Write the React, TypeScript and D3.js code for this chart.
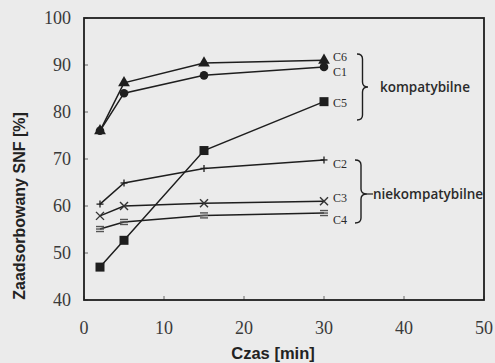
import React from "react";
import * as d3 from "d3";

// Sorption time points [min]
const times = [2, 5, 15, 30];

// Adsorbed SNF [%] for each sample
const c6 = [76, 86.2, 90.4, 91.0];
const c1 = [76, 84.0, 87.8, 89.6];
const c5 = [47.0, 52.7, 71.8, 82.2];
const c2 = [60.4, 64.9, 68.0, 69.8];
const c3 = [57.9, 60.0, 60.6, 61.0];
const c4 = [55.1, 56.6, 58.0, 58.5];

const xTicks = [0, 10, 20, 30, 40, 50];
const yTicks = [40, 50, 60, 70, 80, 90, 100];

type Marker = "triangle" | "circle" | "square" | "plus" | "cross" | "bars";

const series: { name: string; values: number[]; marker: Marker; labelDy: number }[] = [
  { name: "C6", values: c6, marker: "triangle", labelDy: 1 },
  { name: "C1", values: c1, marker: "circle", labelDy: 9 },
  { name: "C5", values: c5, marker: "square", labelDy: 5 },
  { name: "C2", values: c2, marker: "plus", labelDy: 8 },
  { name: "C3", values: c3, marker: "cross", labelDy: 1 },
  { name: "C4", values: c4, marker: "bars", labelDy: 11 },
];

const W = 495;
const H = 363;
const M = { left: 84, right: 484, top: 18, bottom: 300 };

const x = d3.scaleLinear().domain([0, 50]).range([M.left, M.right]);
const y = d3.scaleLinear().domain([40, 100]).range([M.bottom, M.top]);

const ink = "#1e1e1e";

function MarkerShape({ kind, cx, cy }: { kind: Marker; cx: number; cy: number }) {
  switch (kind) {
    case "triangle":
      return <path d={d3.symbol(d3.symbolTriangle, 60)()!} transform={`translate(${cx},${cy})`} fill={ink} />;
    case "circle":
      return <circle cx={cx} cy={cy} r={4.3} fill={ink} />;
    case "square":
      return <rect x={cx - 4.5} y={cy - 4.5} width={9} height={9} fill={ink} />;
    case "plus":
      return (
        <g stroke={ink} strokeWidth={1.3}>
          <line x1={cx - 3.5} x2={cx + 3.5} y1={cy} y2={cy} />
          <line x1={cx} x2={cx} y1={cy - 3.5} y2={cy + 3.5} />
        </g>
      );
    case "cross":
      return (
        <g stroke="#333" strokeWidth={1.4}>
          <line x1={cx - 4} x2={cx + 4} y1={cy - 4} y2={cy + 4} />
          <line x1={cx - 4} x2={cx + 4} y1={cy + 4} y2={cy - 4} />
        </g>
      );
    case "bars":
      return (
        <g stroke="#555" strokeWidth={1.4}>
          <line x1={cx - 4} x2={cx + 4} y1={cy - 2.5} y2={cy - 2.5} />
          <line x1={cx - 4} x2={cx + 4} y1={cy} y2={cy} />
          <line x1={cx - 4} x2={cx + 4} y1={cy + 2.5} y2={cy + 2.5} />
        </g>
      );
  }
}

// Right-facing curly brace from (x0, y0) down to (x0, y1), pointing at ym
function bracePath(x0: number, y0: number, y1: number, ym: number, w: number) {
  const xm = x0 + w / 2;
  const r = 5;
  return [
    `M${x0},${y0}`,
    `Q${xm},${y0} ${xm},${y0 + r}`,
    `L${xm},${ym - r}`,
    `Q${xm},${ym} ${x0 + w},${ym}`,
    `Q${xm},${ym} ${xm},${ym + r}`,
    `L${xm},${y1 - r}`,
    `Q${xm},${y1} ${x0},${y1}`,
  ].join(" ");
}

export default function App() {
  const line = d3
    .line<number>()
    .x((_, i) => x(times[i]))
    .y((v) => y(v));

  const lastT = times[times.length - 1];
  const labelX = x(lastT) + 9;

  return (
    <svg
      width={W}
      height={H}
      style={{ position: "absolute", left: 0, top: 0, background: "#ebebeb" }}
    >
      <defs>
        <clipPath id="plot">
          <rect x={M.left} y={M.top} width={M.right - M.left} height={M.bottom - M.top} />
        </clipPath>
      </defs>

      {/* inward ticks */}
      {yTicks.map((t) => (
        <line key={`yt${t}`} x1={M.left} x2={M.left + 4} y1={y(t)} y2={y(t)} stroke="#666" strokeWidth={1} />
      ))}
      {xTicks.map((t) => (
        <line key={`xt${t}`} x1={x(t)} x2={x(t)} y1={M.bottom} y2={M.bottom - 4} stroke="#666" strokeWidth={1} />
      ))}

      {/* series lines and markers */}
      {series.map((s) => (
        <g key={s.name}>
          <path d={line(s.values)!} fill="none" stroke={ink} strokeWidth={1.5} />
          {s.values.map((v, i) => (
            <MarkerShape key={i} kind={s.marker} cx={x(times[i])} cy={y(v)} />
          ))}
          <text
            x={labelX}
            y={y(s.values[s.values.length - 1]) + s.labelDy}
            fontFamily="Liberation Serif, serif"
            fontSize={12}
            fill="#2a2a2a"
          >
            {s.name}
          </text>
        </g>
      ))}

      {/* group braces and names */}
      <path d={bracePath(357, 54, 120, 87, 11)} fill="none" stroke={ink} strokeWidth={1.4} />
      <text x={380} y={92} fontFamily="Open Sans, sans-serif" fontSize={13.5} fontWeight={600} fill="#2a2a2a">
        kompatybilne
      </text>
      <path d={bracePath(355, 160, 223, 194, 12)} fill="none" stroke={ink} strokeWidth={1.4} />
      <g clipPath="url(#plot)">
        <line x1={367} x2={373} y1={194} y2={194} stroke={ink} strokeWidth={1.2} />
        <text x={373} y={199} fontFamily="Open Sans, sans-serif" fontSize={13.5} fontWeight={600} fill="#2a2a2a">
          niekompatybilne
        </text>
      </g>

      {/* frame */}
      <rect
        x={M.left}
        y={M.top}
        width={M.right - M.left}
        height={M.bottom - M.top}
        fill="none"
        stroke={ink}
        strokeWidth={1.8}
      />

      {/* tick labels */}
      {yTicks.map((t) => (
        <text
          key={`yl${t}`}
          x={71}
          y={y(t)}
          dy="0.35em"
          textAnchor="end"
          fontFamily="Liberation Serif, serif"
          fontSize={18}
          fill="#3a3a3a"
        >
          {t}
        </text>
      ))}
      {xTicks.map((t) => (
        <text
          key={`xl${t}`}
          x={x(t)}
          y={334}
          textAnchor="middle"
          fontFamily="Liberation Serif, serif"
          fontSize={18}
          fill="#3a3a3a"
        >
          {t}
        </text>
      ))}

      {/* axis titles */}
      <text
        x={273}
        y={359}
        textAnchor="middle"
        fontFamily="Liberation Sans, Arial, sans-serif"
        fontWeight="bold"
        fontSize={16.5}
        fill="#222"
      >
        Czas [min]
      </text>
      <text
        transform="translate(25,206) rotate(-90)"
        textAnchor="middle"
        fontFamily="Liberation Sans, Arial, sans-serif"
        fontWeight="bold"
        fontSize={16}
        fill="#222"
      >
        Zaadsorbowany SNF [%]
      </text>
    </svg>
  );
}
